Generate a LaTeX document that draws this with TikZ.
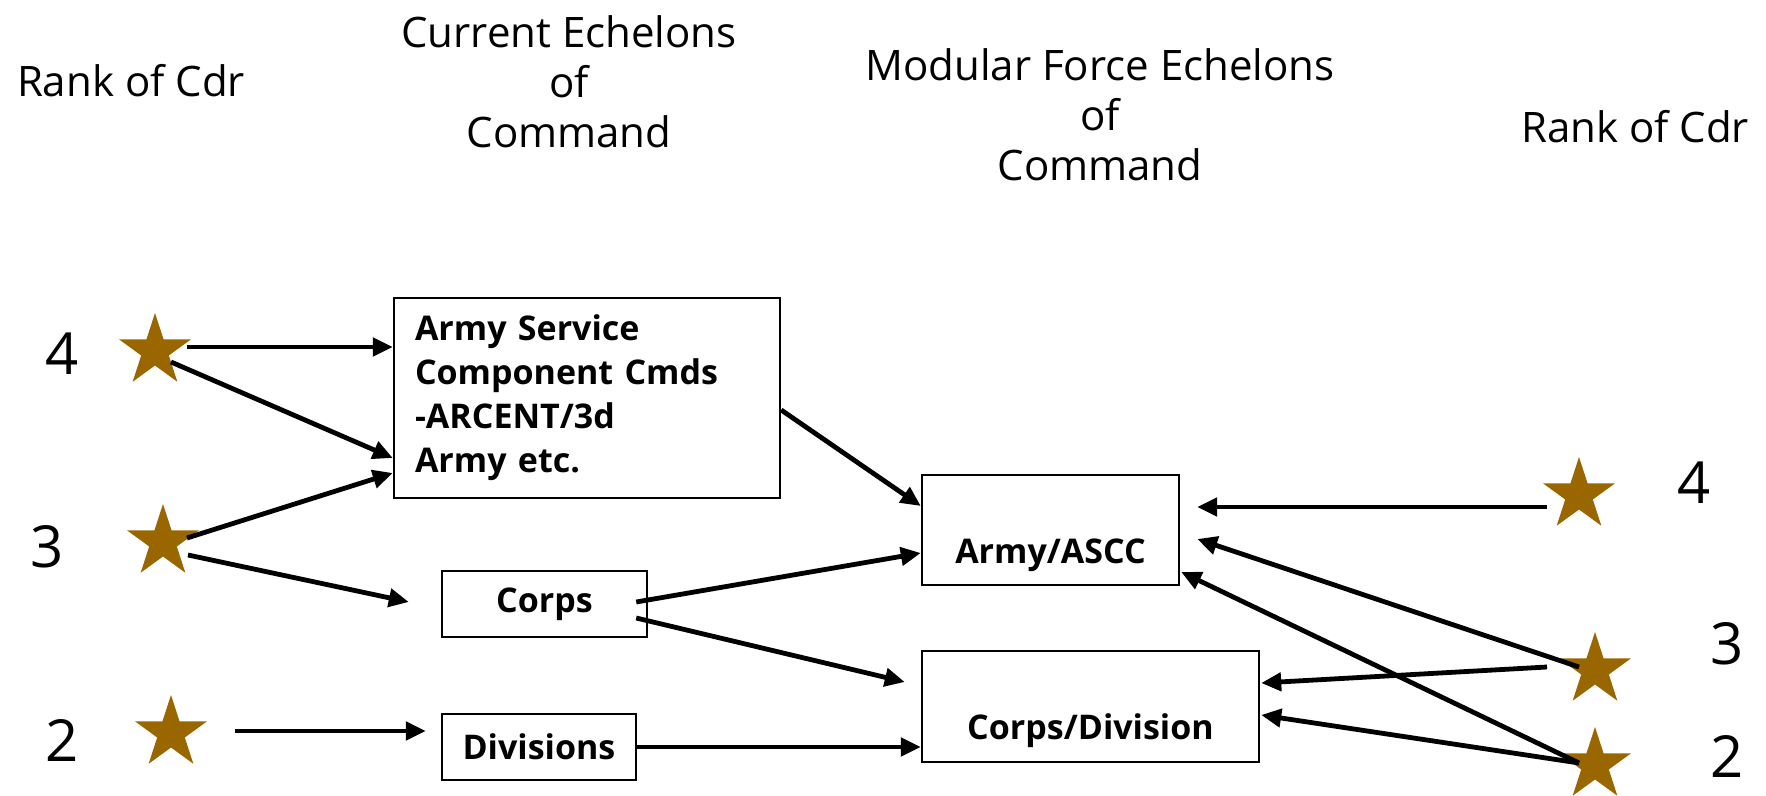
\documentclass[tikz,border=0pt]{standalone}
\usepackage{fontspec}
\setmainfont{Open Sans}
\usepackage{tikz}
\usetikzlibrary{arrows.meta,shapes.geometric,positioning}
\definecolor{starbrown}{HTML}{996600}
\tikzset{%
	head/.style     = {align=center, font=\fontsize{21}{25}\selectfont}, % column titles
	rank/.style     = {font=\fontsize{29}{34}\selectfont}, % number of stars
	rankstar/.style = {star, star points=5, star point ratio=2.618, fill=starbrown, draw=none, inner sep=0pt, minimum size=38pt},
	block/.style    = {draw, rectangle, line width=1.2pt, font=\fontsize{17}{22}\selectfont\bfseries},
	arrow/.style    = {line width=2.4pt, ->, >={Triangle[length=10pt,width=9pt]}},
}
\begin{document}
\begin{tikzpicture}[x=0.5pt,y=-0.5pt]
	\useasboundingbox (0,0) rectangle (1766,796);
	% column titles
	\node [head] (rankl) at (131,81) {Rank of Cdr};
	\node [head] (cur) at (569,82) {Current Echelons\\of\\Command};
	\node [head] (mod) at (1100,115) {Modular Force Echelons\\of\\Command};
	\node [head] (rankr) at (1635,127) {Rank of Cdr};
	
	% current echelons
	\node [rank] (n4l) at (62,354) {4};
	\node [rank] (n3l) at (47,547) {3};
	\node [rank] (n2l) at (62,740) {2};
	\node [rankstar] (l4) at (155,351) {};
	\node [rankstar] (l3) at (163,542) {};
	\node [rankstar] (l2) at (171,733) {};
	\node [block, text width=172pt, inner xsep=10.5pt, minimum height=100pt, align=left] (asc) at (587,398) {Army Service\\Component Cmds\\-ARCENT/3d\\Army etc.};
	\node [block, minimum width=102.5pt, minimum height=33pt] (corps) at (544.5,604) {Corps};
	\node [block, minimum width=97pt, minimum height=33pt] (div) at (539,747) {Divisions};
	
	% modular force echelons
	\node [block, minimum width=128.5pt, minimum height=55pt, text height=37pt, text depth=4pt] (army) at (1050.5,530) {Army/ASCC};
	\node [block, minimum width=168.5pt, minimum height=55.5pt, text height=37pt, text depth=4pt] (cdiv) at (1090.5,706.5) {Corps/Division};
	\node [rankstar] (r4) at (1579,495) {};
	\node [rankstar] (r3) at (1595,670) {};
	\node [rankstar] (r2) at (1595,765) {};
	\node [rank] (n4r) at (1694,483) {4};
	\node [rank] (n3r) at (1727,644) {3};
	\node [rank] (n2r) at (1727,756) {2};
	
	\draw [arrow] ([shift={(32,-4)}]l4.center) -- ([shift={(0,-51)}]asc.west);
	\draw [arrow] ([shift={(16,11)}]l4.center) -- ([shift={(0,60)}]asc.west);
	\draw [arrow] ([shift={(24,-4)}]l3.center) -- ([shift={(0,75)}]asc.west);
	\draw [arrow] ([shift={(25,13)}]l3.center) -- ([shift={(-32,-2)}]corps.west);
	\draw [arrow] ([shift={(64,-2)}]l2.center) -- ([shift={(-15,-16)}]div.west);
	\draw [arrow] ([shift={(0,12)}]asc.east) -- ([shift={(0,-24)}]army.west);
	\draw [arrow] ([shift={(-12,-2)}]corps.east) -- ([shift={(0,23)}]army.west);
	\draw [arrow] ([shift={(-12,14)}]corps.east) -- ([shift={(-16,-24.5)}]cdiv.west);
	\draw [arrow] (div.east) -- (div.east -| cdiv.west);
	\draw [arrow] ([shift={(-32,12)}]r4.center) -- ([shift={(17,-23)}]army.east);
	\draw [arrow] ([shift={(-16,-3)}]r3.center) -- ([shift={(17,9)}]army.east);
	\draw [arrow] ([shift={(-16,-2)}]r2.center) -- ([shift={(1,42)}]army.east);
	\draw [arrow] ([shift={(-48,-3)}]r3.center) -- ([shift={(1,-23.5)}]cdiv.east);
	\draw [arrow] ([shift={(-16,-2)}]r2.center) -- ([shift={(1,8.5)}]cdiv.east);
\end{tikzpicture}
\end{document}
